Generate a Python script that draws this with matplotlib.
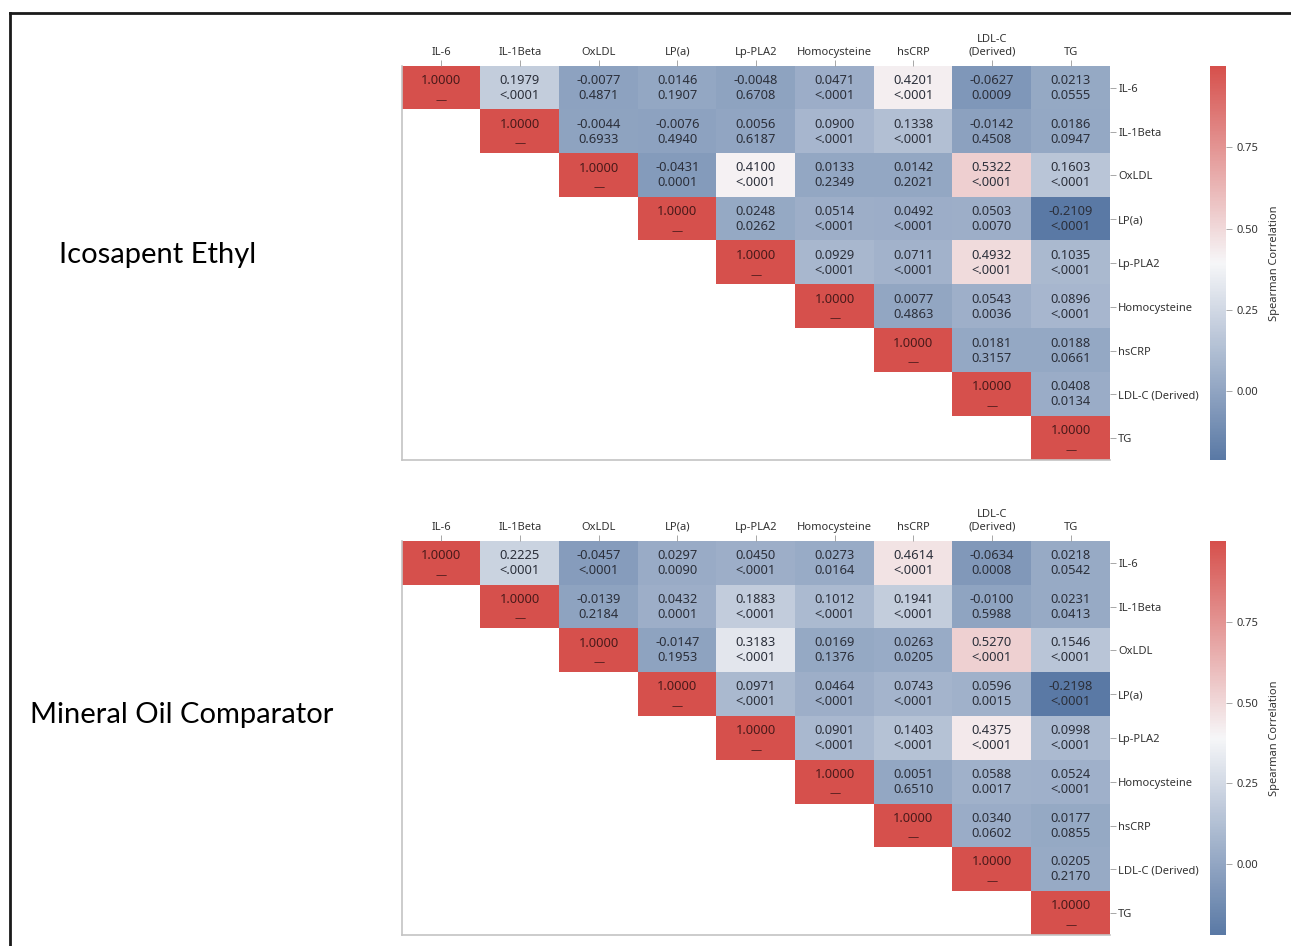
import numpy as np
import matplotlib
matplotlib.use("Agg")
import matplotlib.pyplot as plt
from matplotlib.colors import LinearSegmentedColormap, Normalize
from matplotlib.lines import Line2D

plt.rcParams['font.family'] = ['Noto Sans', 'DejaVu Sans']

# markers, in the same order for columns and rows
markers = ['IL-6', 'IL-1Beta', 'OxLDL', 'LP(a)', 'Lp-PLA2', 'Homocysteine',
           'hsCRP', 'LDL-C (Derived)', 'TG']
top_labels = ['IL-6', 'IL-1Beta', 'OxLDL', 'LP(a)', 'Lp-PLA2', 'Homocysteine',
              'hsCRP', 'LDL-C\n(Derived)', 'TG']

# upper triangle, row by row (diagonal first): Spearman r and p-value text
epa_r = [
    [1.0, 0.1979, -0.0077, 0.0146, -0.0048, 0.0471, 0.4201, -0.0627, 0.0213],
    [1.0, -0.0044, -0.0076, 0.0056, 0.0900, 0.1338, -0.0142, 0.0186],
    [1.0, -0.0431, 0.4100, 0.0133, 0.0142, 0.5322, 0.1603],
    [1.0, 0.0248, 0.0514, 0.0492, 0.0503, -0.2109],
    [1.0, 0.0929, 0.0711, 0.4932, 0.1035],
    [1.0, 0.0077, 0.0543, 0.0896],
    [1.0, 0.0181, 0.0188],
    [1.0, 0.0408],
    [1.0],
]
epa_p = [
    ['', '<.0001', '0.4871', '0.1907', '0.6708', '<.0001', '<.0001', '0.0009', '0.0555'],
    ['', '0.6933', '0.4940', '0.6187', '<.0001', '<.0001', '0.4508', '0.0947'],
    ['', '0.0001', '<.0001', '0.2349', '0.2021', '<.0001', '<.0001'],
    ['', '0.0262', '<.0001', '<.0001', '0.0070', '<.0001'],
    ['', '<.0001', '<.0001', '<.0001', '<.0001'],
    ['', '0.4863', '0.0036', '<.0001'],
    ['', '0.3157', '0.0661'],
    ['', '0.0134'],
    [''],
]
oil_r = [
    [1.0, 0.2225, -0.0457, 0.0297, 0.0450, 0.0273, 0.4614, -0.0634, 0.0218],
    [1.0, -0.0139, 0.0432, 0.1883, 0.1012, 0.1941, -0.0100, 0.0231],
    [1.0, -0.0147, 0.3183, 0.0169, 0.0263, 0.5270, 0.1546],
    [1.0, 0.0971, 0.0464, 0.0743, 0.0596, -0.2198],
    [1.0, 0.0901, 0.1403, 0.4375, 0.0998],
    [1.0, 0.0051, 0.0588, 0.0524],
    [1.0, 0.0340, 0.0177],
    [1.0, 0.0205],
    [1.0],
]
oil_p = [
    ['', '<.0001', '<.0001', '0.0090', '<.0001', '0.0164', '<.0001', '0.0008', '0.0542'],
    ['', '0.2184', '0.0001', '<.0001', '<.0001', '<.0001', '0.5988', '0.0413'],
    ['', '0.1953', '<.0001', '0.1376', '0.0205', '<.0001', '<.0001'],
    ['', '<.0001', '<.0001', '<.0001', '0.0015', '<.0001'],
    ['', '<.0001', '<.0001', '<.0001', '<.0001'],
    ['', '0.6510', '0.0017', '<.0001'],
    ['', '0.0602', '0.0855'],
    ['', '0.2170'],
    [''],
]

cmap = LinearSegmentedColormap.from_list(
    'spearman', ['#5a79a5', '#f6f6f8', '#d6504c'])

W, H = 1291, 946
fig = plt.figure(figsize=(W / 100, H / 100), dpi=100)


def box(x0, y0, x1, y1):
    return [x0 / W, 1 - y1 / H, (x1 - x0) / W, (y1 - y0) / H]


def heatmap(ax, cax, rows_r, rows_p, title, title_x, title_y):
    n = len(markers)
    r = np.full((n, n), np.nan)
    for i, row in enumerate(rows_r):
        r[i, i:] = row
    norm = Normalize(vmin=np.nanmin(r), vmax=1.0)
    im = ax.imshow(np.ma.masked_invalid(r), cmap=cmap, norm=norm,
                   aspect='auto', extent=(0, n, n, 0), interpolation='nearest')
    for i in range(n):
        for k, (val, p) in enumerate(zip(rows_r[i], rows_p[i])):
            j = i + k
            if i == j:
                ax.text(j + 0.5, i + 0.33, f'{val:.4f}', ha='center', va='center',
                        fontsize=9.3, color='#4a1a1a')
                ax.text(j + 0.5, i + 0.78, '\u2014', ha='center', va='center',
                        fontsize=8, color='#4a1a1a', fontweight='bold')
            else:
                ax.text(j + 0.5, i + 0.5, f'{val:.4f}\n{p}', ha='center',
                        va='center', fontsize=9.3, color='#2b2f3a',
                        linespacing=1.2)
    ax.set_xlim(0, n)
    ax.set_ylim(n, 0)
    ax.set_xticks(np.arange(n) + 0.5)
    ax.set_xticklabels(top_labels, fontsize=8, color='#333333')
    ax.set_yticks(np.arange(n) + 0.5)
    ax.set_yticklabels(markers, fontsize=8, color='#333333')
    ax.xaxis.tick_top()
    ax.yaxis.tick_right()
    ax.tick_params(length=4, width=0.6, color='#999999', pad=2)
    for side in ['top', 'right']:
        ax.spines[side].set_visible(False)
    for side in ['left', 'bottom']:
        ax.spines[side].set_color('#c4c4c4')
        ax.spines[side].set_linewidth(1.2)

    cb = fig.colorbar(im, cax=cax, ticks=[0, 0.25, 0.5, 0.75], format='%.2f')
    cb.outline.set_visible(False)
    cb.ax.tick_params(labelsize=8, length=4, width=0.6, color='#999999',
                      labelcolor='#333333')
    cb.set_label('Spearman Correlation', fontsize=8, color='#333333', labelpad=8)

    fig.text(title_x / W, 1 - title_y / H, title, ha='center', va='center',
             fontsize=21, family=['Lato', 'DejaVu Sans'])


ax1 = fig.add_axes(box(402, 66, 1110, 460))
cax1 = fig.add_axes(box(1210, 66, 1226, 460))
heatmap(ax1, cax1, epa_r, epa_p, 'Icosapent Ethyl', 158, 255)

ax2 = fig.add_axes(box(402, 541, 1110, 935))
cax2 = fig.add_axes(box(1210, 541, 1226, 935))
heatmap(ax2, cax2, oil_r, oil_p, 'Mineral Oil Comparator', 182, 715)

# frame around the slide
fig.add_artist(Line2D([10 / W, 1], [1 - 13 / H, 1 - 13 / H], color='#1a1a1a', lw=2))
fig.add_artist(Line2D([10 / W, 10 / W], [0, 1 - 13 / H], color='#1a1a1a', lw=2))

fig.savefig('out.png', dpi=100)
